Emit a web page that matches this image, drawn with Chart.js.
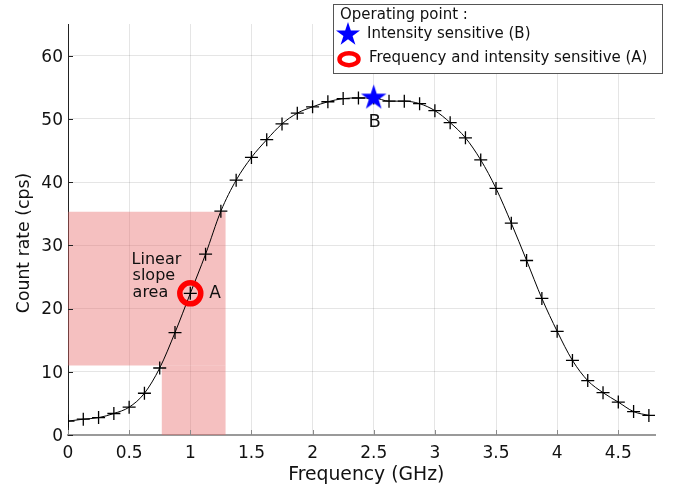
<!DOCTYPE html>
<html><head><meta charset="utf-8">
<script src="https://cdn.jsdelivr.net/npm/chart.js@4.4.1/dist/chart.umd.min.js"></script>
<style>html,body{margin:0;padding:0;background:#fff;} #wrap{width:677px;height:489px;position:relative;}</style>
</head><body><div id="wrap"><canvas id="c" width="677" height="489"></canvas></div>
<script>
// ---- data ----
const freqGHz = [0, 0.125, 0.25, 0.375, 0.5, 0.625, 0.75, 0.875, 1.0, 1.125, 1.25, 1.375, 1.5, 1.625, 1.75, 1.875,
  2.0, 2.125, 2.25, 2.375, 2.5, 2.625, 2.75, 2.875, 3.0, 3.125, 3.25, 3.375, 3.5, 3.625, 3.75, 3.875,
  4.0, 4.125, 4.25, 4.375, 4.5, 4.625, 4.75];
const countRate = [2.2, 2.5, 2.75, 3.4, 4.4, 6.6, 10.6, 16.2, 22.4, 28.6, 35.4, 40.3, 43.9, 46.7, 49.2, 50.9,
  51.9, 52.7, 53.2, 53.3, 53.3, 52.8, 52.8, 52.4, 51.3, 49.4, 47.0, 43.5, 39.0, 33.5, 27.6, 21.6,
  16.4, 11.8, 8.6, 6.7, 5.2, 3.7, 3.1];
const xTickValues = [0, 0.5, 1, 1.5, 2, 2.5, 3, 3.5, 4, 4.5];
const yTickValues = [0, 10, 20, 30, 40, 50, 60];
const operatingPointB = [{x: 2.5, y: 53.3}];
const operatingPointA = [{x: 1.0, y: 22.4}];
const slopeBandUpper = [{x: 0, y: 35.3}, {x: 1.29, y: 35.3}];   // filled down to y=11
const slopeBandLower = [{x: 0.765, y: 11}, {x: 1.29, y: 11}];  // filled down to y=0
const slopeLabelLines = ['Linear', 'slope', 'area'];
const slopeLabelAt = {x: 0.52, y: 25.1};
const xTitle = 'Frequency (GHz)';
const yTitle = 'Count rate (cps)';
const legendTitle = 'Operating point :';
const legendItems = ['Intensity sensitive (B)', 'Frequency and intensity sensitive (A)'];

const FONT = '"DejaVu Sans", "Liberation Sans", sans-serif';
Chart.defaults.font.family = FONT;
Chart.defaults.color = '#111';

function starPath(ctx, cx, cy, R) {
  ctx.beginPath();
  for (let i = 0; i < 10; i++) {
    const r = i % 2 ? R * 0.382 : R;
    const a = -Math.PI / 2 + i * Math.PI / 5;
    ctx.lineTo(cx + r * Math.cos(a), cy + r * Math.sin(a));
  }
  ctx.closePath();
}
function makeStar(R, color) {
  const s = Math.ceil(2 * R + 2);
  const c = document.createElement('canvas');
  c.width = s; c.height = s;
  const g = c.getContext('2d');
  starPath(g, s / 2, s / 2, R);
  g.fillStyle = color; g.fill();
  return c;
}
const starImg = makeStar(13.4, '#0000ff');
const PINK = 'rgba(232,106,106,0.42)';
const fmtTick = v => String(Math.round(v * 100) / 100);

const overlay = {
  id: 'overlay',
  afterDraw(chart) {
    const ctx = chart.ctx, xs = chart.scales.x, ys = chart.scales.y, ca = chart.chartArea;
    ctx.save();
    // small inward tick marks
    ctx.lineWidth = 1;
    ctx.strokeStyle = '#8a8a8a';
    xTickValues.forEach(v => {
      const px = Math.round(xs.getPixelForValue(v)) + 0.5;
      ctx.beginPath(); ctx.moveTo(px, ca.bottom); ctx.lineTo(px, ca.bottom - 5); ctx.stroke();
    });
    ctx.strokeStyle = '#222';
    yTickValues.forEach(v => {
      const py = Math.round(ys.getPixelForValue(v)) + 0.5;
      ctx.beginPath(); ctx.moveTo(ca.left, py); ctx.lineTo(ca.left + 5, py); ctx.stroke();
    });
    ctx.fillStyle = '#111';
    // axis titles
    ctx.textBaseline = 'alphabetic';
    ctx.textAlign = 'center';
    ctx.font = '18.8px ' + FONT;
    ctx.fillText(xTitle, 366.3, 479.5);
    ctx.save();
    ctx.translate(29, 243);
    ctx.rotate(-Math.PI / 2);
    ctx.font = '17.3px ' + FONT;
    ctx.fillText(yTitle, 0, 0);
    ctx.restore();
    ctx.textBaseline = 'middle';
    // Linear slope area
    ctx.font = '16px ' + FONT;
    ctx.textAlign = 'left';
    const lx = xs.getPixelForValue(slopeLabelAt.x), ly = ys.getPixelForValue(slopeLabelAt.y);
    slopeLabelLines.forEach((t, i) => ctx.fillText(t, lx + (i === 0 ? 0 : 1), ly + (i - 1) * 16.8));
    // A label
    ctx.font = '17px ' + FONT;
    ctx.textAlign = 'left';
    ctx.fillText('A', xs.getPixelForValue(operatingPointA[0].x) + 19, ys.getPixelForValue(operatingPointA[0].y) + 0.5);
    // B label
    ctx.font = '18px ' + FONT;
    ctx.textAlign = 'center';
    ctx.fillText('B', xs.getPixelForValue(operatingPointB[0].x) + 1, ys.getPixelForValue(operatingPointB[0].y) + 24);
    // legend box
    ctx.fillStyle = '#fff';
    ctx.fillRect(333.5, 4.5, 329, 69);
    ctx.strokeStyle = '#555'; ctx.lineWidth = 1;
    ctx.strokeRect(333.5, 4.5, 329, 69);
    ctx.fillStyle = '#111';
    ctx.font = '15px ' + FONT;
    ctx.textAlign = 'left';
    ctx.fillText(legendTitle, 340, 15.5);
    ctx.fillText(legendItems[0], 367, 34);
    ctx.fillText(legendItems[1], 369, 58.5);
    starPath(ctx, 348, 34.5, 12.6);
    ctx.fillStyle = '#0000ff'; ctx.fill();
    ctx.beginPath();
    ctx.ellipse(349, 59.2, 9.5, 6, 0, 0, Math.PI * 2);
    ctx.strokeStyle = '#ff0000'; ctx.lineWidth = 4.5; ctx.stroke();
    ctx.restore();
  }
};

new Chart(document.getElementById('c'), {
  type: 'line',
  data: {
    datasets: [
      { data: operatingPointB, showLine: false, pointStyle: starImg, pointRadius: 13, borderColor: 'transparent', backgroundColor: 'transparent' },
      { data: operatingPointA, showLine: false, pointStyle: 'circle', pointRadius: 10.5, pointBorderWidth: 5.5,
        pointBorderColor: '#ff0000', pointBackgroundColor: 'rgba(0,0,0,0)', borderColor: 'transparent' },
      { data: freqGHz.map((f, i) => ({x: f, y: countRate[i]})), borderColor: '#000', borderWidth: 1,
        cubicInterpolationMode: 'monotone', pointStyle: 'cross', pointRadius: 6.5, pointBorderWidth: 1.3,
        pointBorderColor: '#000', pointBackgroundColor: '#000', fill: false },
      { data: slopeBandUpper, fill: {value: 11}, backgroundColor: PINK, borderColor: 'transparent', borderWidth: 0, pointRadius: 0 },
      { data: slopeBandLower, fill: 'origin', backgroundColor: PINK, borderColor: 'transparent', borderWidth: 0, pointRadius: 0 }
    ]
  },
  options: {
    responsive: false,
    animation: false,
    events: [],
    layout: { padding: { top: 24, right: 22, left: 0, bottom: 0 } },
    plugins: { legend: { display: false }, tooltip: { enabled: false } },
    scales: {
      x: {
        type: 'linear', min: 0, max: 4.8,
        afterBuildTicks: s => { s.ticks = xTickValues.map(v => ({value: v})); },
        afterFit: s => { s.height = 54; },
        ticks: { font: { size: 17 }, color: '#111', padding: 8, maxRotation: 0, callback: v => fmtTick(v) },
        grid: { color: 'rgba(0,0,0,0.1)', drawTicks: false },
        border: { color: '#9a9a9a', width: 2 },
        title: { display: false }
      },
      y: {
        min: 0, max: 65,
        afterBuildTicks: s => { s.ticks = yTickValues.map(v => ({value: v})); },
        afterFit: s => { s.width = 68; },
        ticks: { font: { size: 17, lineHeight: '3px' }, color: '#111', padding: 5, callback: v => ['', fmtTick(v)] },
        grid: { color: 'rgba(0,0,0,0.1)', drawTicks: false },
        border: { color: '#222', width: 1 },
        title: { display: false }
      }
    }
  },
  plugins: [overlay]
});
</script></body></html>
